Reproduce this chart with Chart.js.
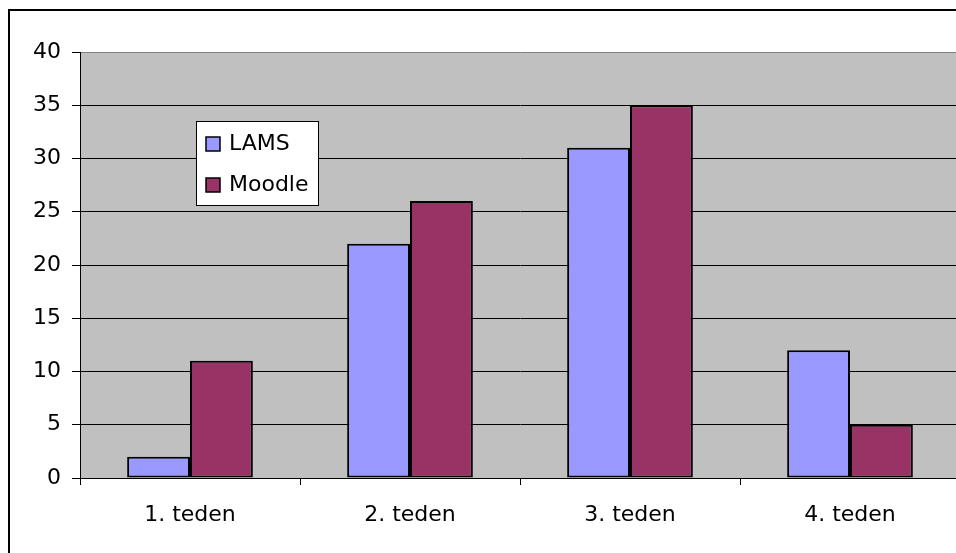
<!DOCTYPE html>
<html>
<head>
<meta charset="utf-8">
<title>LAMS / Moodle</title>
<script src="https://cdn.jsdelivr.net/npm/chart.js@4/dist/chart.umd.min.js"></script>
<style>
  html, body { margin: 0; padding: 0; background: #fff; overflow: hidden; }
  #frame {
    position: absolute; left: 8px; top: 9px;
    width: 2000px; height: 2000px;
    border: 2px solid #000;
  }
  #grafico { position: absolute; left: 0; top: 0; }
</style>
</head>
<body>
<div id="frame"></div>
<canvas id="grafico" width="980" height="560"></canvas>
<script>
const tedni = ['1. teden', '2. teden', '3. teden', '4. teden'];
const lams = [2, 22, 31, 12];
const moodle = [11, 26, 35, 5];
const yTicks = [0, 5, 10, 15, 20, 25, 30, 35, 40];

const FONT = { family: '"DejaVu Sans", sans-serif', size: 22 };

// grey plot background, drawn before the grid
const ozadje = {
  id: 'ozadje',
  beforeDraw(chart) {
    const a = chart.chartArea;
    const ctx = chart.ctx;
    ctx.save();
    ctx.fillStyle = '#C0C0C0';
    ctx.fillRect(a.left, a.top, a.right - a.left, a.bottom - a.top);
    ctx.restore();
  }
};

// small boxed legend sitting inside the plot
const legenda = {
  id: 'legenda',
  afterDraw(chart) {
    const ctx = chart.ctx;
    const x = 196, y = 121, w = 122, h = 84;
    ctx.save();
    ctx.fillStyle = '#fff';
    ctx.fillRect(x, y, w, h);
    ctx.strokeStyle = '#000';
    ctx.lineWidth = 1;
    ctx.strokeRect(x + 0.5, y + 0.5, w, h);
    ctx.font = FONT.size + 'px ' + FONT.family;
    ctx.textBaseline = 'middle';
    chart.data.datasets.forEach(function(ds, i) {
      const cy = 144 + i * 41;
      ctx.fillStyle = ds.backgroundColor;
      ctx.fillRect(206, cy - 7, 14, 14);
      ctx.lineWidth = 1.5;
      ctx.strokeRect(206, cy - 7, 14, 14);
      ctx.fillStyle = '#000';
      ctx.fillText(ds.label, 229, cy);
    });
    ctx.restore();
  }
};

document.addEventListener('DOMContentLoaded', function() {
  const ctx = document.getElementById('grafico').getContext('2d');

  new Chart(ctx, {
    type: 'bar',
    data: {
      labels: tedni,
      datasets: [
        {
          label: 'LAMS',
          data: lams,
          backgroundColor: '#9999FF',
          borderColor: '#000',
          borderWidth: 2,
          borderSkipped: false
        },
        {
          label: 'Moodle',
          data: moodle,
          backgroundColor: '#993366',
          borderColor: '#000',
          borderWidth: 2,
          borderSkipped: false
        }
      ]
    },
    options: {
      responsive: false,
      animation: false,
      categoryPercentage: 2 / 3.5,
      barPercentage: 1,
      layout: { padding: { top: 52, right: 20, bottom: 0, left: 0 } },
      plugins: {
        legend: { display: false },
        tooltip: { enabled: false }
      },
      scales: {
        x: {
          offset: true,
          grid: {
            offset: true,
            drawOnChartArea: false,
            drawTicks: true,
            tickLength: 7,
            color: '#000'
          },
          border: { color: '#000', width: 1 },
          ticks: { color: '#000', font: FONT, padding: 17, maxRotation: 0 },
          afterFit: function(scale) { scale.height = 82; }
        },
        y: {
          min: 0,
          max: 40,
          afterBuildTicks: function(scale) {
            scale.ticks = yTicks.map(v => ({ value: v }));
          },
          grid: {
            color: function(c) { return c.tick && c.tick.value === 40 ? '#808080' : '#000'; },
            tickColor: '#000',
            tickLength: 8,
            lineWidth: 1
          },
          border: { color: '#000', width: 1 },
          ticks: { color: '#000', font: FONT, padding: 11 },
          afterFit: function(scale) { scale.width = 80; }
        }
      }
    },
    plugins: [ozadje, legenda]
  });
});
</script>
</body>
</html>
